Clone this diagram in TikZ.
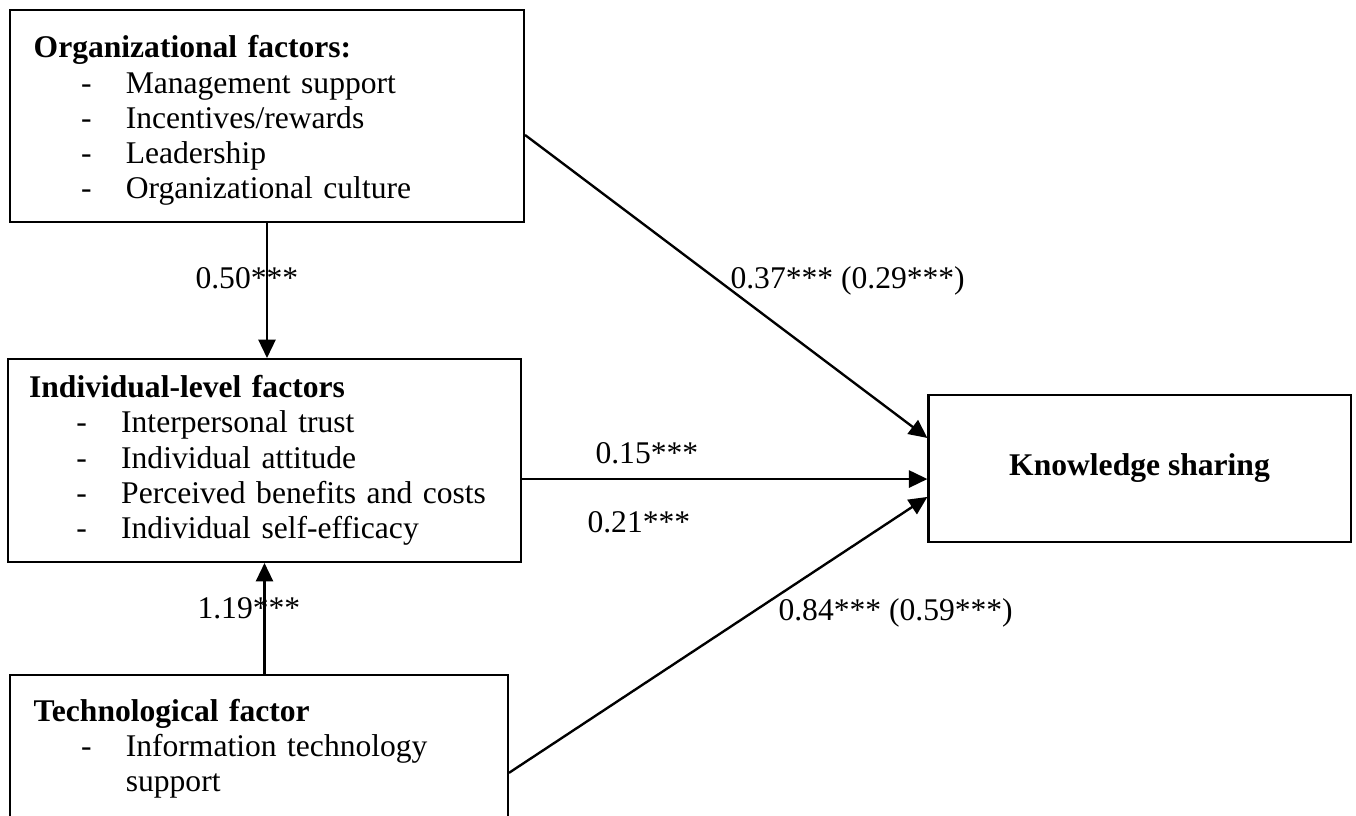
\documentclass[tikz,border=0pt]{standalone}
\usepackage{fontspec}
\setmainfont{Liberation Serif}
\usepackage{tikz}
\usetikzlibrary{arrows.meta}
\newcommand{\itm}[1]{\makebox[35pt][l]{\hspace{18pt}-}#1}

\begin{document}
\begin{tikzpicture}[x=0.38pt,y=-0.38pt,
	factor/.style={draw,line width=0.8pt,align=left,inner xsep=9pt,inner ysep=0pt,font=\fontsize{12}{13.4}\selectfont},
	coef/.style={anchor=base west,inner sep=0pt,font=\fontsize{12}{14}\selectfont},
	arr/.style={line width=0.9pt,-{Triangle[length=7pt,width=6.5pt]}}]
	\useasboundingbox (0,0) rectangle (1356,815);
	% factor boxes
	\path (267,116) node[factor,text width=177.3pt,minimum height=80.6pt] (org) {\rule{0pt}{12pt}\textbf{Organizational factors:}\\ \itm{Management support}\\ \itm{Incentives/rewards}\\ \itm{Leadership}\\ \itm{Organizational culture}};
	\path (264.5,460.5) node[factor,inner xsep=8pt,text width=178.9pt,minimum height=77.1pt] (indiv) {\textbf{Individual-level factors}\\ \itm{Interpersonal trust}\\ \itm{Individual attitude}\\ \itm{Perceived benefits and costs}\\ \itm{Individual self-efficacy}};
	\path (259,746.5) node[factor,text width=171.2pt,minimum height=54.3pt] (tech) {\rule{0pt}{10pt}\textbf{Technological factor}\\ \itm{Information technology}\\ \hspace*{35pt}support};
	\path (1139.5,468.5) node[draw,line width=0.8pt,minimum width=160.4pt,minimum height=55.9pt,font=\fontsize{12}{14}\selectfont\bfseries] (ks) {Knowledge sharing};
	% paths
	\draw[arr] (org.south) -- (org.south |- indiv.north);
	\draw[arr] (indiv.south |- tech.north) -- (indiv.south);
	\draw[arr] ([yshift=-7.2pt]org.east) -- ([yshift=11.6pt]ks.west);
	\draw[arr] ([yshift=-4pt]ks.west -| indiv.east) -- ([yshift=-4pt]ks.west);
	\draw[arr] ([yshift=-10pt]tech.east) -- ([yshift=-10.8pt]ks.west);
	% coefficients
	\path (195,288.5) node[coef] (orgind) {0.50***};
	\path (197,618.5) node[coef] (techind) {1.19***};
	\path (730,288) node[coef] (orgks) {0.37*** (0.29***)};
	\path (595,463.5) node[coef] (indksa) {0.15***};
	\path (587,532.5) node[coef] (indksb) {0.21***};
	\path (778,620.5) node[coef] (techks) {0.84*** (0.59***)};
\end{tikzpicture}
\end{document}
